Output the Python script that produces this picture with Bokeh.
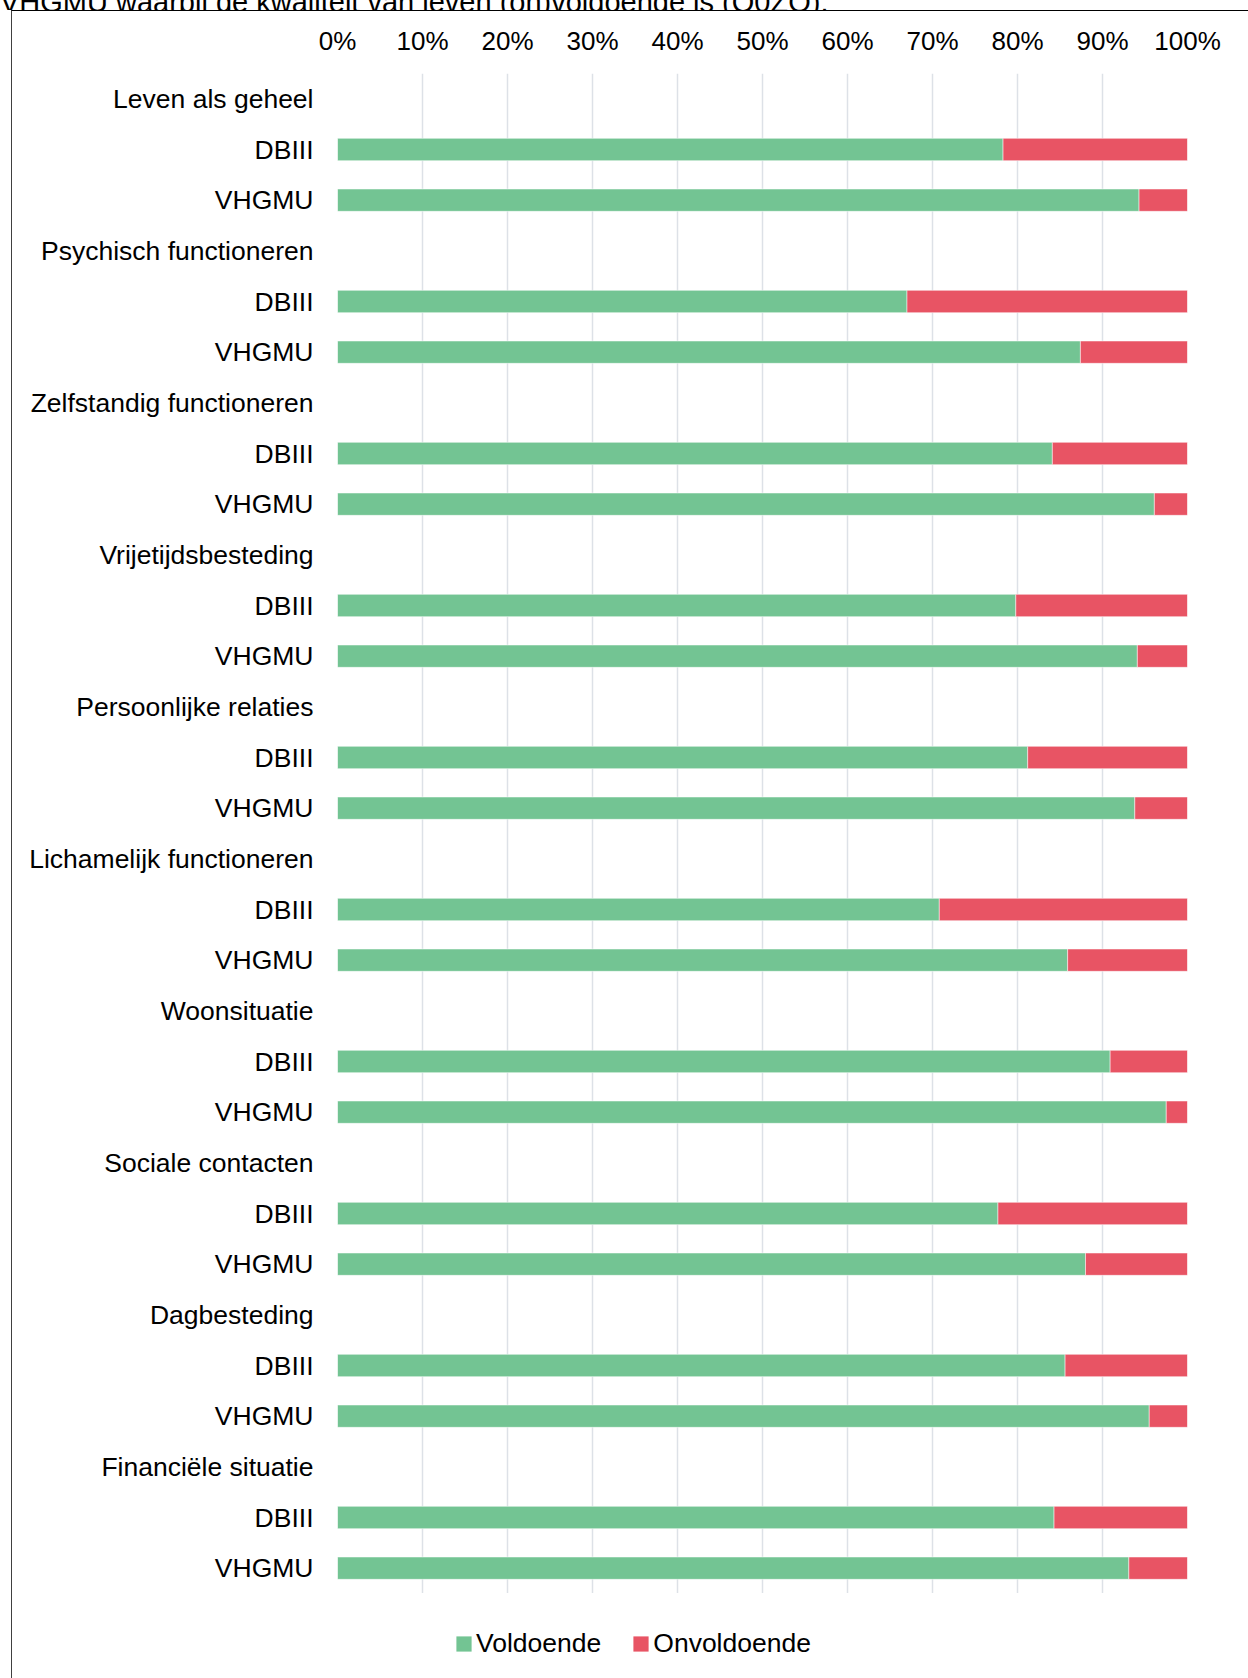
from bokeh.plotting import figure
from bokeh.layouts import column
from bokeh.models import (ColumnDataSource, FixedTicker, PrintfTickFormatter, Range1d,
                          Legend, LegendItem, Div)
from bokeh.embed import file_html
from bokeh.resources import INLINE

# ---- data ----
title_text = "VHGMU waarbij de kwaliteit van leven (on)voldoende is (Q0ZO)."
groups = ["Leven als geheel", "Psychisch functioneren", "Zelfstandig functioneren",
          "Vrijetijdsbesteding", "Persoonlijke relaties", "Lichamelijk functioneren",
          "Woonsituatie", "Sociale contacten", "Dagbesteding", "Financiële situatie"]
subgroups = ["DBIII", "VHGMU"]
dbiii_voldoende = [78.3, 67.0, 84.1, 79.8, 81.2, 70.8, 90.9, 77.7, 85.6, 84.3]
dbiii_onvoldoende = [21.7, 33.0, 15.9, 20.2, 18.8, 29.2, 9.1, 22.3, 14.4, 15.7]
vhgmu_voldoende = [94.3, 87.4, 96.1, 94.1, 93.8, 85.9, 97.5, 88.0, 95.5, 93.1]
vhgmu_onvoldoende = [5.7, 12.6, 3.9, 5.9, 6.2, 14.1, 2.5, 12.0, 4.5, 6.9]
x_ticks = [0, 10, 20, 30, 40, 50, 60, 70, 80, 90, 100]
series_names = ["Voldoende", "Onvoldoende"]

GREEN = "#73C493"
RED = "#E85464"
FONT = "Liberation Sans"

# ---- build rows ----
row_labels = []
for g in groups:
    row_labels.append(g)
    row_labels.extend(subgroups)

ys, vold, onvold = [], [], []
for i in range(len(groups)):
    ys += [3 * i + 1, 3 * i + 2]
    vold += [dbiii_voldoende[i], vhgmu_voldoende[i]]
    onvold += [dbiii_onvoldoende[i], vhgmu_onvoldoende[i]]

src = ColumnDataSource(dict(y=ys, vold=vold, onvold=onvold))

n_rows = len(row_labels)
p = figure(width=1237, height=1583, output_backend="svg", toolbar_location=None,
           x_range=Range1d(0, 100), y_range=Range1d(n_rows - 0.5, -0.5),
           x_axis_location="above",
           min_border_left=325, min_border_right=62, min_border_top=62, min_border_bottom=1)
p.margin = (0, 0, 0, 11)
p.styles = {"border-top": "1px solid #000000", "border-left": "1px solid #404040"}
p.outline_line_color = None
p.background_fill_color = "white"
p.border_fill_color = "white"

rs = p.hbar_stack(["vold", "onvold"], y="y", height=0.44, color=[GREEN, RED],
                  source=src, line_color="white", line_width=0.5)

# x axis
xa = p.xaxis[0]
xa.ticker = FixedTicker(ticks=x_ticks)
xa.formatter = PrintfTickFormatter(format="%d%%")
xa.axis_line_color = None
xa.major_tick_line_color = None
xa.minor_tick_line_color = None
xa.major_label_text_font = FONT
xa.major_label_text_font_size = "26px"
xa.major_label_text_color = "#000000"
xa.major_label_standoff = 12

# y axis
ya = p.yaxis[0]
ya.ticker = FixedTicker(ticks=list(range(n_rows)))
ya.major_label_overrides = {i: lab for i, lab in enumerate(row_labels)}
ya.axis_line_color = None
ya.major_tick_line_color = None
ya.minor_tick_line_color = None
ya.major_label_text_font = FONT
ya.major_label_text_font_size = "26.5px"
ya.major_label_text_color = "#000000"
ya.major_label_standoff = 18

p.xgrid.grid_line_color = "#dde1e7"
p.xgrid.grid_line_width = 1.5
p.ygrid.grid_line_color = None

# ---- legend strip (separate figure so the legend is not clipped) ----
lf = figure(width=1237, height=85, output_backend="svg", toolbar_location=None,
            x_range=Range1d(0, 100), y_range=Range1d(n_rows - 0.5, -0.5), min_border=0)
lf.margin = (0, 0, 0, 11)
lf.styles = {"border-left": "1px solid #404040"}
lf.axis.visible = False
lf.grid.visible = False
lf.outline_line_color = None
lf.background_fill_color = "white"
lf.border_fill_color = "white"
colors = [GREEN, RED]
legend_rs = lf.hbar_stack(["vold", "onvold"], y="y", height=0.44, color=colors,
                          source=src, line_color=None)
for r in legend_rs:
    r.visible = False

lg = Legend(items=[LegendItem(label=series_names[k], renderers=[legend_rs[k]]) for k in range(2)])
lg.orientation = "horizontal"
lg.location = (117, 19)
lg.padding = 0
lg.margin = 0
lg.spacing = 30
lg.border_line_color = None
lg.background_fill_alpha = 0
lg.inactive_fill_alpha = 0
lg.glyph_width = 19
lg.glyph_height = 19
lg.label_standoff = 3
lg.label_text_font = FONT
lg.label_text_font_size = "26.5px"
lg.label_text_color = "#000000"
lf.add_layout(lg, "center")

head = Div(text=('<div style="margin-top:-20px;white-space:nowrap;font-family:\'Liberation Sans\';'
                 'font-size:29px;line-height:29px;color:#000;">' + title_text + '</div>'),
           width=1248, height=10, margin=(0, 0, 0, 0),
           styles={"overflow": "hidden"})

layout = column(head, p, lf, spacing=0, margin=(0, 0, 0, 0))
open("out.html", "w").write(file_html(layout, INLINE))
